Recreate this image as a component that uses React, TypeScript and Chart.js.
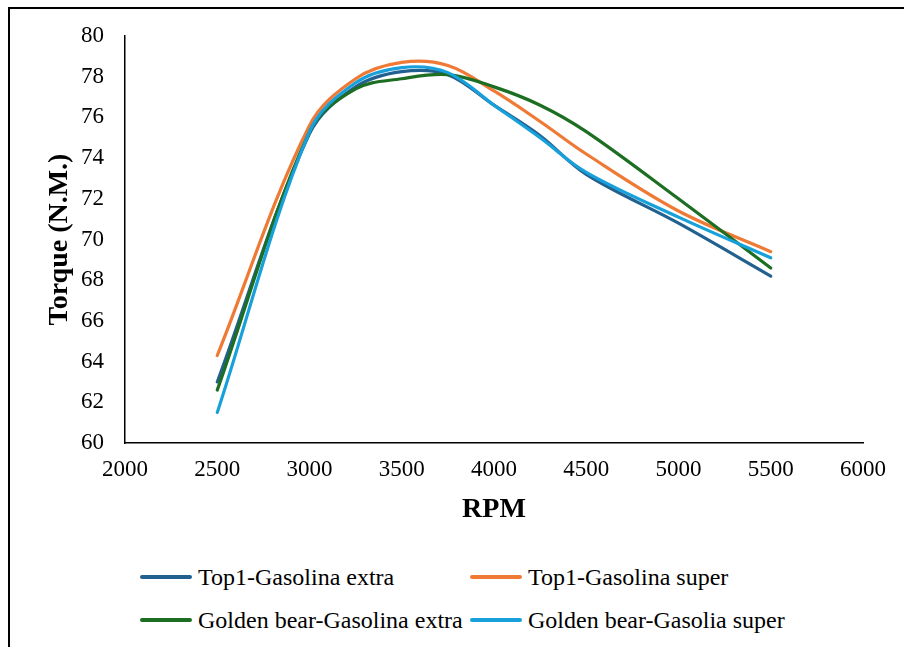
import React, { useEffect, useRef } from "react";
import { Chart, registerables } from "chart.js";

Chart.register(...registerables);

const rpm = [2500, 3000, 3250, 3500, 3750, 4000, 4250, 4500, 5000, 5500];
const top1Extra = [63.0, 75.2, 77.5, 78.25, 78.1, 76.6, 75.1, 73.2, 70.8, 68.2];
const top1Super = [64.3, 75.6, 77.9, 78.7, 78.55, 77.3, 75.8, 74.2, 71.4, 69.4];
const goldenExtra = [62.6, 75.3, 77.4, 77.9, 78.1, 77.5, 76.6, 75.3, 72.0, 68.6];
const goldenSuper = [61.5, 75.3, 77.7, 78.45, 78.2, 76.6, 75.0, 73.3, 71.1, 69.1];

const seriesNames = [
  "Top1-Gasolina extra",
  "Top1-Gasolina super",
  "Golden bear-Gasolina extra",
  "Golden bear-Gasolia super",
];
const seriesColors = ["#22618F", "#EE7A36", "#1C6E22", "#18A0DB"];
const seriesValues = [top1Extra, top1Super, goldenExtra, goldenSuper];

const xTitle = "RPM";
const yTitle = "Torque (N.M.)";
const xMin = 2000;
const xMax = 6000;
const xStep = 500;
const yMin = 60;
const yMax = 80;
const yStep = 2;

const FONT = "'Liberation Serif', 'Times New Roman', Times, serif";

export default function App() {
  const ref = useRef<HTMLCanvasElement | null>(null);

  useEffect(() => {
    if (!ref.current) return;
    Chart.defaults.font.family = FONT;
    const chart = new Chart(ref.current, {
      type: "line",
      data: {
        datasets: seriesValues.map((vals, i) => ({
          label: seriesNames[i],
          data: rpm.map((x, j) => ({ x, y: vals[j] })),
          borderColor: seriesColors[i],
          backgroundColor: seriesColors[i],
          borderWidth: 3.2,
          pointRadius: 0,
          tension: 0.35,
          fill: false,
          order: 4 - i,
          borderCapStyle: "round" as const,
        })),
      },
      options: {
        responsive: false,
        animation: false,
        devicePixelRatio: 1,
        layout: { padding: { left: 43, top: 36, right: 41, bottom: 33 } },
        plugins: { legend: { display: false }, tooltip: { enabled: false } },
        scales: {
          x: {
            type: "linear",
            min: xMin,
            max: xMax,
            ticks: {
              stepSize: xStep,
              color: "#000",
              padding: 13,
              maxRotation: 0,
              font: { family: FONT, size: 23 },
              callback: (v: any) => String(v),
            },
            grid: { display: false, drawTicks: false, tickLength: 0 },
            border: { display: true, color: "#000", width: 1.5 },
            title: {
              display: true,
              text: xTitle,
              color: "#000",
              padding: 0,
              font: { family: FONT, size: 28, weight: "bold" },
            },
            afterFit: (s: any) => {
              s.height = 84;
            },
          },
          y: {
            min: yMin,
            max: yMax,
            ticks: {
              stepSize: yStep,
              color: "#000",
              padding: 21,
              font: { family: FONT, size: 23 },
              callback: (v: any) => String(v),
            },
            grid: { display: false, drawTicks: false, tickLength: 0 },
            border: { display: true, color: "#000", width: 1.5 },
            title: {
              display: true,
              text: yTitle,
              color: "#000",
              padding: 0,
              font: { family: FONT, size: 28, weight: "bold" },
            },
            afterFit: (s: any) => {
              s.width = 82;
            },
          },
        },
      },
    });
    return () => chart.destroy();
  }, []);

  const legendRows = [
    [0, 1],
    [2, 3],
  ];
  const rowY = [577, 620];
  const colX = [140, 470];

  return (
    <div
      style={{
        position: "fixed",
        left: 0,
        top: 0,
        width: 904,
        height: 647,
        background: "#fff",
        overflow: "hidden",
      }}
    >
      <div
        style={{
          position: "absolute",
          left: 8,
          top: 7,
          width: 900,
          height: 700,
          borderTop: "2px solid #000",
          borderLeft: "2px solid #000",
        }}
      />
      <canvas
        ref={ref}
        width={904}
        height={560}
        style={{ position: "absolute", left: 0, top: 0, width: 904, height: 560 }}
      />
      {legendRows.map((row, r) =>
        row.map((idx, c) => (
          <div
            key={idx}
            style={{
              position: "absolute",
              left: colX[c],
              top: rowY[r] - 16,
              height: 32,
              display: "flex",
              alignItems: "center",
              fontFamily: FONT,
              fontSize: 24,
              color: "#000",
              whiteSpace: "nowrap",
            }}
          >
            <div
              style={{
                width: 52,
                height: 3.5,
                background: seriesColors[idx],
                marginRight: 6,
                borderRadius: 2,
              }}
            />
            <span>{seriesNames[idx]}</span>
          </div>
        ))
      )}
    </div>
  );
}
